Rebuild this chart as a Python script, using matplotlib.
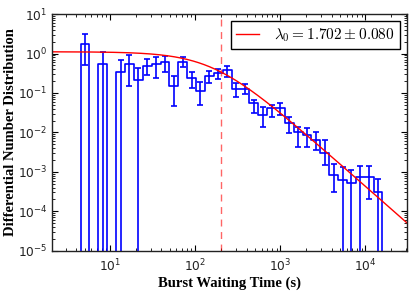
import numpy as np
import matplotlib
matplotlib.use("Agg")
import matplotlib.pyplot as plt

# ---------------- data ----------------
edge_first = 4.48        # first bin edge (s)
edge_last = 15850.0      # last bin edge (s)
n_bins = 34              # log-uniform bins

values = [1.74, 0.0, 0.540, 0.0, 0.339, 0.531, 0.208, 0.481, 0.531, 0.607,
          0.154, 0.625, 0.243, 0.113, 0.268, 0.319, 0.392, 0.126, 0.129, 0.0545,
          0.0275, 0.0407, 0.0407, 0.0169, 0.0104, 0.00857, 0.00640, 0.00305, 0.00083, 0.00062,
          0.00051, 0.00075, 0.00075, 0.00031]
err_upper = [3.11, 0.0, 1.07, 0.0, 0.67, 0.898, 0.42, 0.745, 0.80, 0.86,
             0.268, 0.827, 0.348, 0.184, 0.365, 0.397, 0.481, 0.175, 0.168, 0.066,
             0.0447, 0.0493, 0.0545, 0.0249, 0.0139, 0.0127, 0.0104, 0.0064, 0.0016, 0.0013,
             0.0011, 0.0014, 0.0014, 0.00065]
err_lower = [0.501, 0.0, 0.0, 0.0, 0.0, 0.150, 0.0, 0.284, 0.243, 0.344,
             0.0466, 0.454, 0.131, 0.0493, 0.181, 0.225, 0.257, 0.080, 0.092, 0.0304,
             0.0139, 0.0249, 0.0275, 0.00946, 0.00432, 0.00432, 0.00357, 0.00150, 0.00030, 0.0,
             0.0, 0.0, 0.00020, 0.0]

# fitted model parameters (smoothly broken power law)
fit_amp = 1.107
fit_t0 = 160.0
fit_gamma = 1.9
fit_sharp = 1.38
t_cut = 200.0
fit_label = r"$\lambda_0 = 1.702 \pm 0.080$"

x_label = "Burst Waiting Time (s)"
y_label = "Differential Number Distribution"
x_limits = (2.05, 3.1e4)
y_limits = (1e-5, 1e1)

# ---------------- plotting ----------------
plt.rcParams["mathtext.fontset"] = "cm"

fig = plt.figure(figsize=(4.15, 2.93), dpi=100)
ax = fig.add_axes([0.1246, 0.1444, 0.8568, 0.8076])

floor = 1e-12
edges = np.logspace(np.log10(edge_first), np.log10(edge_last), n_bins + 1)
centers = np.sqrt(edges[:-1] * edges[1:])
vals = np.array(values)
vplot = np.where(vals > 0, vals, floor)

xs = np.repeat(edges, 2)
ys = np.concatenate([[floor], np.repeat(vplot, 2), [floor]])
ax.plot(xs, ys, color="b", lw=1.2)

mask = vals > 0
lo = np.array(err_lower)
lo = np.where(lo > 0, lo, floor)
hi = np.array(err_upper)
ax.errorbar(centers[mask], vals[mask],
            yerr=[vals[mask] - lo[mask], hi[mask] - vals[mask]],
            fmt="none", ecolor="b", elinewidth=1.2, capsize=2.2, capthick=1.2)

t = np.logspace(np.log10(x_limits[0]), np.log10(x_limits[1]), 400)
model = fit_amp * (1 + (t / fit_t0) ** fit_sharp) ** (-fit_gamma / fit_sharp)
ax.plot(t, model, color="r", lw=1.0, label=fit_label)

ax.axvline(t_cut, color="r", ls="--", lw=1.0, alpha=0.6, dashes=(5, 4))

ax.set_xscale("log")
ax.set_yscale("log")
ax.set_xlim(*x_limits)
ax.set_ylim(*y_limits)

ax.tick_params(which="both", direction="in", top=True, right=True,
               labelsize=8.8, labelcolor="#222222")
ax.tick_params(which="major", length=4, width=0.8)
ax.tick_params(axis="y", which="major", pad=3)
ax.tick_params(axis="x", which="major", pad=5)
ax.tick_params(which="minor", length=2, width=0.6)
for s in ax.spines.values():
    s.set_linewidth(1.0)
    s.set_color("#222222")

lab_font = dict(family="Liberation Serif", weight="bold", size=10.5)
ax.set_xlabel(x_label, fontdict=lab_font, labelpad=2)
ax.set_ylabel(y_label, fontdict=lab_font)
ax.yaxis.set_label_coords(-0.098, 0.5)

leg = ax.legend(loc="upper right", fontsize=11, fancybox=False, framealpha=1,
                edgecolor="black", handlelength=1.5, handletextpad=1.0,
                borderpad=0.35, borderaxespad=0.45)
leg.get_frame().set_linewidth(1.0)

fig.savefig("out.png", dpi=100)
